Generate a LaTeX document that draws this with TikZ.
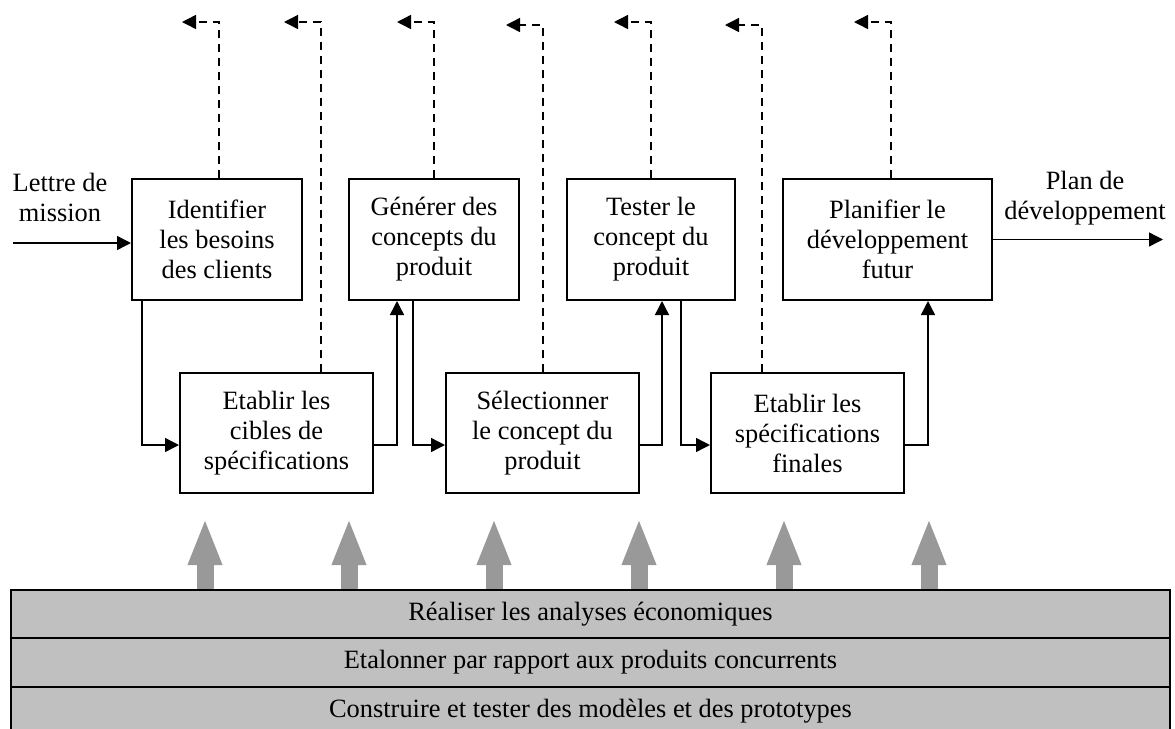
\documentclass[tikz,border=0pt]{standalone}
\usepackage{fontspec}
\setmainfont{Liberation Serif}
\usetikzlibrary{arrows.meta}
\definecolor{fond}{HTML}{C0C0C0}
\definecolor{grosgris}{HTML}{999999}
\tikzset{
  etape/.style={draw,line width=1pt,inner sep=0pt,align=center,font=\fontsize{13.2pt}{15pt}\selectfont},
  texte/.style={inner sep=0pt,align=center,font=\fontsize{13.2pt}{15pt}\selectfont},
  barre/.style={draw,line width=1pt,fill=fond,inner sep=0pt,minimum width=579.5pt,minimum height=24.5pt,font=\fontsize{13.2pt}{15pt}\selectfont},
  lien/.style={line width=0.7pt,-{Triangle[length=7pt,width=7pt]}},
  retour/.style={lien,dash pattern=on 4pt off 3pt},
  grosse/.style={grosgris,line width=8.5pt,-{Triangle[length=23.5pt,width=15.5pt]}}
}
\begin{document}
\begin{tikzpicture}[x=0.5pt,y=-0.5pt]
\useasboundingbox (0,0) rectangle (1175,729);
\coordinate (hautA) at (0,22);
\coordinate (hautB) at (0,25);
\node[etape,minimum width=85pt,minimum height=60.5pt] (ident) at (217,239.5) {Identifier\\les besoins\\des clients};
\node[etape,minimum width=85pt,minimum height=60.5pt] (gen) at (434,239.5) {Générer des\\concepts du\\produit};
\node[etape,minimum width=84pt,minimum height=60.5pt] (test) at (651,239.5) {Tester le\\concept du\\produit};
\node[etape,minimum width=104.5pt,minimum height=60.5pt] (plan) at (887.5,239.5) {Planifier le\\développement\\futur};
\node[etape,minimum width=96.5pt,minimum height=60pt] (cibles) at (276.5,433) {Etablir les\\cibles de\\spécifications};
\node[etape,minimum width=96.5pt,minimum height=60pt] (sel) at (542.5,433) {Sélectionner\\le concept du\\produit};
\node[etape,minimum width=96.5pt,minimum height=60pt] (fin) at (807.5,433) {Etablir les\\spécifications\\finales};
\node[texte] (lettre) at (60,197) {Lettre de\\mission};
\node[texte] (plandev) at (1085,198) {Plan de\\développement};
\coordinate (entree) at (13,243);
\coordinate (sortie) at (1163,239.5);
\draw[lien] (entree) -- (entree -| ident.west);
\draw[lien] (plan.east) -- (sortie);
\draw[lien] ([xshift=5.5pt]ident.south west) |- ([yshift=-6pt]cibles.west);
\draw[lien] ([yshift=-6pt]cibles.east) -| ([xshift=24.5pt]gen.south west);
\draw[lien] ([xshift=32.5pt]gen.south west) |- ([yshift=-6pt]sel.west);
\draw[lien] ([yshift=-6pt]sel.east) -| ([xshift=48pt]test.south west);
\draw[lien] ([xshift=57.5pt]test.south west) |- ([yshift=-6pt]fin.west);
\draw[lien] ([yshift=-6pt]fin.east) -| ([xshift=73pt]plan.south west);
\draw[retour] ([xshift=1pt]ident.north) -- ([xshift=1pt]ident.north |- hautA) -- ++(-37,0);
\draw[retour] ([xshift=22.25pt]cibles.north) -- ([xshift=22.25pt]cibles.north |- hautA) -- ++(-37,0);
\draw[retour] (gen.north) -- (gen.north |- hautA) -- ++(-37,0);
\draw[retour] ([xshift=0.25pt]sel.north) -- ([xshift=0.25pt]sel.north |- hautB) -- ++(-37,0);
\draw[retour] (test.north) -- (test.north |- hautA) -- ++(-37,0);
\draw[retour] ([xshift=-22.75pt]fin.north) -- ([xshift=-22.75pt]fin.north |- hautB) -- ++(-37,0);
\draw[retour] ([xshift=1.75pt]plan.north) -- ([xshift=1.75pt]plan.north |- hautA) -- ++(-37,0);
\node[barre] (eco) at (590.5,614) {Réaliser les analyses économiques};
\node[barre] (etal) at (590.5,662.5) {Etalonner par rapport aux produits concurrents};
\node[barre] (proto) at (590.5,711) {Construire et tester des modèles et des prototypes};
\foreach \x in {205,349,494,639,784,929}
  \draw[grosse] (\x,589) -- (\x,518);
\end{tikzpicture}
\end{document}
